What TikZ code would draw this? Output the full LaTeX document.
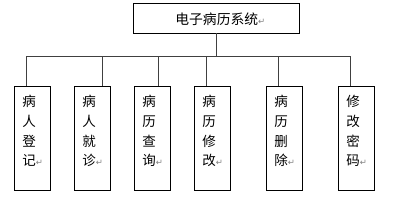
\documentclass[tikz,border=0pt]{standalone}
\usepackage{fontspec}
\newfontfamily\cjk{Noto Sans CJK SC}
\newfontfamily\symfont{DejaVu Sans}
\newcommand{\retmark}{{\symfont\color{gray}\fontsize{8.5}{8.5}\selectfont ↵}}
\begin{document}
\begin{tikzpicture}[x=1pt,y=-1pt,line width=0.7pt]
    \useasboundingbox (0,0) rectangle (395,210);
    % top box
    \node[draw,minimum width=166pt,minimum height=30pt,inner sep=0pt] (sys) at (216,18) {};
    \node[anchor=west,inner sep=0pt,font=\cjk\fontsize{13.8}{13.8}\selectfont] (systxt) at (175,19) {电子病历系统\retmark};
    % module boxes
    \foreach \i/\bx/\cx/\txt in {1/14/26/{病\\人\\登\\记},2/74/102/{病\\人\\就\\诊},
        3/134/158/{病\\历\\查\\询},4/194/206/{病\\历\\修\\改},
        5/266/278/{病\\历\\删\\除},6/338/350/{修\\改\\密\\码}} {
      \node[draw,minimum width=36pt,minimum height=104pt,inner sep=0pt] (b\i) at (\bx+18,138) {};
      \node[anchor=north west,inner sep=0pt,align=left,font=\cjk\fontsize{13.5}{19.7}\selectfont] (t\i) at (\bx+8,95) {\txt\retmark};
      \coordinate (c\i) at (\cx,56);
      \draw[black!75] (c\i) -- (c\i |- b\i.north);
    }
    % bus
    \draw[black!75] (c1) -- (c6);
    \draw[black!75] (sys.south) -- (sys.south |- c1);
\end{tikzpicture}
\end{document}
